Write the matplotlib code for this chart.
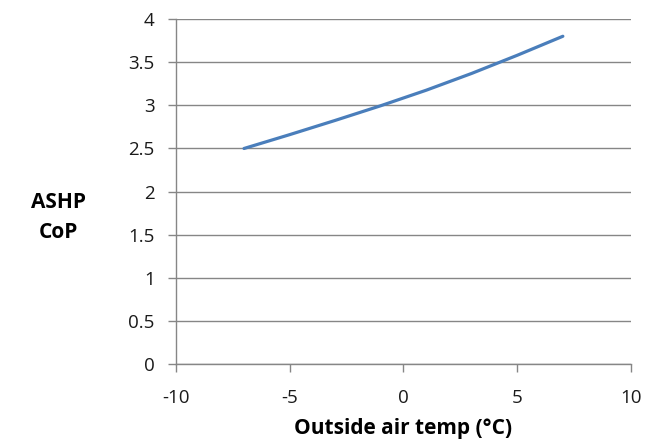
import matplotlib
matplotlib.use("Agg")
import matplotlib.pyplot as plt

# outside air temperature (C) and heat pump CoP
temps = [-7, -5, -3, -1, 1, 3, 5, 7]
cop = [2.5, 2.66, 2.825, 2.995, 3.175, 3.37, 3.58, 3.8]

x_ticks = [-10, -5, 0, 5, 10]
y_ticks = [0, 0.5, 1, 1.5, 2, 2.5, 3, 3.5, 4]

plt.rcParams['font.family'] = ['Open Sans', 'DejaVu Sans']
plt.rcParams['axes.unicode_minus'] = False

fig = plt.figure(figsize=(6.63, 4.47), dpi=100)
ax = fig.add_axes([0.265, 0.185, 0.687, 0.7725])

grey = "#868686"
ax.plot(temps, cop, color="#4a7ebb", lw=2.3, solid_capstyle="round")

ax.set_xlim(-10, 10)
ax.set_ylim(0, 4)
ax.set_xticks(x_ticks)
ax.set_yticks(y_ticks)
ax.set_yticklabels([f"{v:g}" for v in y_ticks])
ax.grid(axis="y", color=grey, lw=1)
ax.set_axisbelow(True)

for s in ["top", "right"]:
    ax.spines[s].set_visible(False)
for s in ["left", "bottom"]:
    ax.spines[s].set_color(grey)
    ax.spines[s].set_linewidth(1)

ax.tick_params(axis="both", colors=grey, length=6, width=1, labelcolor="#1a1a1a", labelsize=13.5)
ax.tick_params(axis="y", pad=9)
ax.tick_params(axis="x", pad=12)

ax.set_xlabel("Outside air temp (°C)", fontsize=15, fontweight="bold", labelpad=8)
fig.text(0.088, 0.514, "ASHP\nCoP", fontsize=15, fontweight="bold", ha="center", va="center",
         linespacing=1.55)

fig.savefig("out.png", dpi=100)
